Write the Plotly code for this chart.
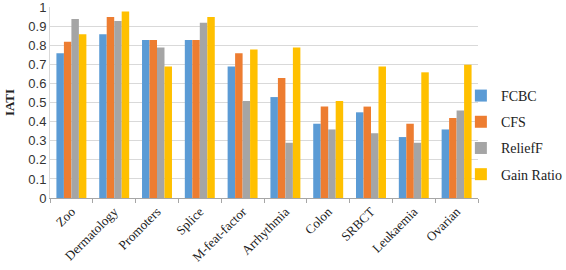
import plotly.graph_objects as go

categories = ["Zoo", "Dermatology", "Promoters", "Splice", "M-feat-factor",
              "Arrhythmia", "Colon", "SRBCT", "Leukaemia", "Ovarian"]
fcbc = [0.76, 0.86, 0.83, 0.83, 0.69, 0.53, 0.39, 0.45, 0.32, 0.36]
cfs = [0.82, 0.95, 0.83, 0.83, 0.76, 0.63, 0.48, 0.48, 0.39, 0.42]
relieff = [0.94, 0.93, 0.79, 0.92, 0.51, 0.29, 0.36, 0.34, 0.29, 0.46]
gain_ratio = [0.86, 0.98, 0.69, 0.95, 0.78, 0.79, 0.51, 0.69, 0.66, 0.70]
y_ticks = [0, 0.1, 0.2, 0.3, 0.4, 0.5, 0.6, 0.7, 0.8, 0.9, 1]
y_tick_labels = ["0", "0.1", "0.2", "0.3", "0.4", "0.5", "0.6", "0.7", "0.8", "0.9", "1"]

series = [("FCBC", fcbc, "#5B9BD5"), ("CFS", cfs, "#ED7D31"),
          ("ReliefF", relieff, "#A5A5A5"), ("Gain Ratio", gain_ratio, "#FFC000")]

fig = go.Figure()
for name, vals, col in series:
    fig.add_trace(go.Bar(x=categories, y=vals, name=name, marker_color=col,
                         marker_line_width=0, legendgroup=name))

fig.update_layout(
    template="none",
    width=566, height=270,
    margin=dict(l=50, r=88, t=7, b=72, autoexpand=False),
    paper_bgcolor="white", plot_bgcolor="white",
    barmode="group", bargap=0.3, bargroupgap=0,
    legend=dict(x=0.96, y=0.33, xanchor="left", yanchor="middle",
                font=dict(family="Liberation Serif", size=14, color="#222"),
                tracegroupgap=5, itemwidth=30, bgcolor="rgba(0,0,0,0)"),
    xaxis=dict(type="category", tickson="boundaries", ticks="outside", ticklen=4,
               showgrid=False,
               tickcolor="#A6A6A6", showline=True, linecolor="#A6A6A6", automargin=False,
               tickangle=-45, tickfont=dict(family="Liberation Serif", size=13, color="#222")),
    yaxis=dict(range=[0, 1.003], tickvals=y_ticks, ticktext=y_tick_labels,
               showgrid=True, gridcolor="#D9D9D9", automargin=False,
               showline=True, linecolor="#D9D9D9", zeroline=False,
               tickfont=dict(family="Liberation Sans", size=13, color="#333"),
               title=dict(text="<b>IATI</b>", standoff=10,
                          font=dict(family="Liberation Serif", size=13, color="#222"))),
)

fig.write_html("out.html", config={"displayModeBar": False},
               post_script="document.body.style.margin='0';")
